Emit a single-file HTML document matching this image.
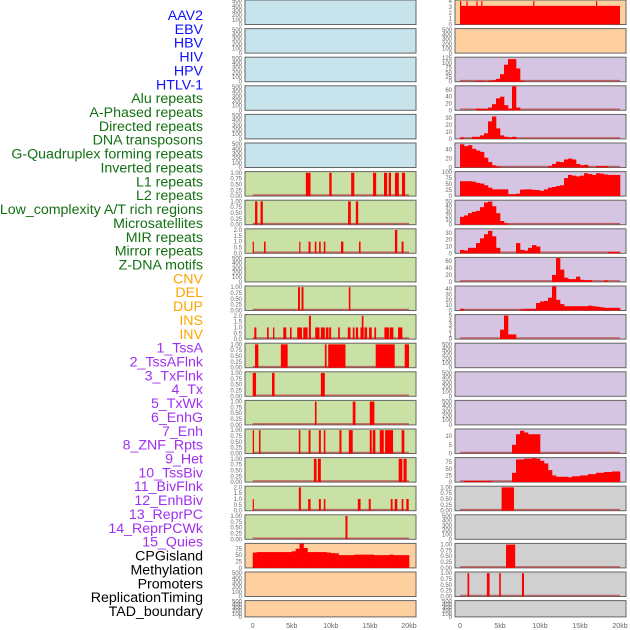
<!DOCTYPE html>
<html><head><meta charset="utf-8"><style>
body{margin:0;background:#fff;width:630px;height:630px;overflow:hidden}
svg{display:block;font-family:"Liberation Sans",sans-serif}
</style></head><body>
<svg id="chart" width="630" height="630" viewBox="0 0 630 630" xmlns="http://www.w3.org/2000/svg"></svg>
<script>
const trackLabels = ["AAV2","EBV","HBV","HIV","HPV","HTLV-1","Alu repeats","A-Phased repeats","Directed repeats","DNA transposons","G-Quadruplex forming repeats","Inverted repeats","L1 repeats","L2 repeats","Low_complexity A/T rich regions","Microsatellites","MIR repeats","Mirror repeats","Z-DNA motifs","CNV","DEL","DUP","INS","INV","1_TssA","2_TssAFlnk","3_TxFlnk","4_Tx","5_TxWk","6_EnhG","7_Enh","8_ZNF_Rpts","9_Het","10_TssBiv","11_BivFlnk","12_EnhBiv","13_ReprPC","14_ReprPCWk","15_Quies","CPGisland","Methylation","Promoters","ReplicationTiming","TAD_boundary"];
const labelGroups = [6,13,5,15,5];
const groupColors = ["#1010ff","#137013","#ffa500","#a030f0","#000000"];
const xTickValues = [0,5,10,15,20];
const xTickLabels = ["0","5kb","10kb","15kb","20kb"];

const leftBg = ["b","b","b","b","b","b","g","g","g","g","g","g","g","g","g","g","g","g","g","o","o","o"];
const rightBg = ["o","o","p","p","p","p","p","p","p","p","p","p","p","p","p","p","p","k","k","k","k","k"];

const leftScale = ["e500","e500","e500","e500","e500","e500","u1","u1","u2","e500","u1","u2","u1","u1","u1","u1","u1","u2","u1","c75","e500","e500"];
const rightScale = ["r4","e500","r125","r60","r30","r40","r100","r50","r30b","r60b","r40b","r5","e500","e500","e500","r10","r75","u1","e500","u1","u1","e500"];

const leftIntervals = {
 6: [[6.8,7.4,1],[9.8,10.1,1],[12.6,13.0,1],[15.4,15.8,1],[16.8,17.2,1],[17.4,17.7,1],[18.2,18.7,1],[19.1,19.5,1]],
 7: [[0.3,0.6,1],[1.0,1.3,1],[12.2,12.55,1],[13.2,13.5,1]],
 8: [[0,0.15,1],[1.45,1.65,1],[5.95,6.1,1],[7.15,7.4,1],[7.95,8.15,1],[8.5,8.7,1],[9.1,9.3,1],[11.3,11.6,1],[13.6,13.8,1],[18.2,18.5,2],[19.05,19.3,1]],
 10: [[5.8,6.05,1],[6.25,6.5,1],[12.3,12.5,1]],
 11: [[0.21,0.47,1],[1.83,2.04,1],[2.6,2.77,1],[3.91,4.3,1],[4.77,4.98,1],[5.7,6.3,1],[6.47,7.02,1],[7.19,7.45,2],[8.0,8.55,1],[8.72,9.23,1],[9.36,9.7,1],[9.79,10.04,1],[10.94,11.15,1],[12.17,12.51,1],[12.81,13.02,1],[13.19,13.49,1],[13.79,14.21,1],[13.96,14.17,2],[14.3,14.64,1],[14.89,15.23,1],[15.57,15.79,1],[16.85,17.45,1],[17.53,18.0,1],[18.6,19.15,1]],
 12: [[0.3,0.72,1],[3.6,4.47,1],[9.23,9.45,1],[9.66,11.87,1],[15.74,18.17,1],[19.45,20.0,1]],
 13: [[0,0.43,1],[2.47,2.8,1],[8.72,9.23,1]],
 14: [[7.96,8.17,1],[12.8,13.15,1],[14.98,15.57,1]],
 15: [[0,0.17,1],[0.8,1.0,1],[5.9,6.1,1],[7.15,7.4,1],[8.47,8.72,1],[9.1,9.3,1],[11.1,11.36,1],[12.3,12.8,1],[14.98,15.23,1],[15.36,15.7,1],[16.26,16.77,1],[16.94,17.96,1],[19.06,19.4,1]],
 16: [[7.83,8.17,1],[8.34,8.72,1],[18.68,19.15,1],[19.3,19.7,1]],
 17: [[0,0.13,1],[5.9,6.17,2],[7.1,7.4,1],[8.47,8.72,1],[9.1,9.3,1],[13.45,13.8,1],[14.85,15.1,1],[17.66,17.9,1],[18.17,18.5,1],[19.06,19.28,1],[19.66,19.96,1]],
 18: [[11.87,12.13,1]]
};
const rightIntervals = {
 0: [[0,20,3.2],[0,0.15,4],[0.8,0.95,4],[2.05,2.2,4],[2.65,2.8,4],[9.15,9.3,4],[17.0,17.15,4]],
 17: [[5.2,6.75,1]],
 19: [[5.75,6.9,1]],
 20: [[0.94,1.15,1],[3.36,3.7,1],[4.9,5.1,1],[7.74,8.0,1]]
};
const cpgProfile = [60,62,62,62,62,62,62,62,62,62,65,75,95,78,62,62,62,62,62,60,58,57,50,50,50,50,52,52,52,52,52,50,50,50,50,52,50,50,50,50];
const hivProfile = [0,0,0,0,4,4,0,5,8,15,40,90,120,120,70,5,0,0,0,0,0,0,0,0,0,0,0,0,0,0,0,0,0,0,0,0,0,0,0,0];
const hpvProfile = [0,0,0,0,5,4,4,8,18,35,40,15,5,70,8,0,0,0,0,0,0,0,0,0,0,0,0,0,0,0,0,0,0,0,0,0,0,0,0,0];
const htlvProfile = [2,0,0,3,3,5,8,25,32,15,5,3,2,3,0,0,0,0,0,0,0,0,0,0,0,0,0,0,0,0,0,0,0,0,0,0,0,0,0,0];
const aphasedProfile = [52,48,50,42,38,35,22,12,5,2,0,0,0,0,0,0,0,0,0,0,0,0,3,8,13,12,18,20,18,8,5,6,0,0,3,3,3,0,0,0];
const directedProfile = [62,62,62,60,55,52,45,35,28,28,28,28,8,8,10,27,28,28,26,25,22,28,35,38,42,45,75,88,85,82,85,95,92,88,95,93,90,88,88,88];
const gquadProfile = [17,20,25,28,30,38,48,50,40,25,8,3,0,0,0,0,0,0,0,0,0,0,0,0,0,0,0,0,0,0,0,0,0,0,0,0,0,0,0,0];
const invertedProfile = [5,4,8,8,15,22,28,33,25,8,0,0,0,0,15,5,4,8,12,10,0,0,0,0,0,0,0,0,0,0,0,0,0,0,0,0,0,2,2,2];
const lowcompProfile = [0,0,0,0,0,0,0,0,0,0,0,0,0,0,0,0,0,0,0,0,0,0,0,20,68,35,12,8,8,15,6,5,5,0,0,0,4,0,0,0];
const microProfile = [3,0,0,0,0,0,0,0,0,0,0,0,0,0,0,2,3,3,3,14,17,18,24,45,20,12,8,8,8,8,8,8,9,8,7,6,5,5,5,5];
const mirProfile = [0,0,0,0,0,0,0,0,0,0,2,5,1,1,0,0,0,0,0,0,0,0,0,0,0,0,0,0,0,0,0,0,0,0,0,0,0,0,0,0];
const hetProfile = [0,0,0,0,0,0,0,0,0,0,0,0,0,5,11,13,12,11,11,11,0,0,0,0,0,0,0,0,0,0,0,0,0,0,0,0,0,0,0,0];
const tssbivProfile = [0,4,4,4,4,4,4,4,0,0,0,0,0,35,85,85,88,88,90,88,80,70,45,25,20,20,20,18,22,22,25,25,30,30,35,35,38,38,40,40];
const leftProfiles = {19: cpgProfile};
const rightProfiles = {2: hivProfile, 3: hpvProfile, 4: htlvProfile, 5: aphasedProfile, 6: directedProfile, 7: gquadProfile, 8: invertedProfile, 9: lowcompProfile, 10: microProfile, 11: mirProfile, 15: hetProfile, 16: tssbivProfile};

const scaleTicks = {
 e500: [0,100,200,300,400,500], u1: [0,0.25,0.5,0.75,1], u2: [0,0.5,1,1.5,2], c75: [0,25,50,75],
 r4: [0,1,2,3,4], r125: [0,25,50,75,100,125], r60: [0,20,40,60], r30: [0,10,20,30], r40: [0,20,40],
 r100: [0,25,50,75,100], r50: [0,10,20,30,40,50], r30b: [0,10,20,30], r60b: [0,20,40,60], r40b: [0,10,20,30,40],
 r5: [0,1,2,3,4,5], r10: [0,5,10], r75: [0,25,50,75]
};
const scaleTop = {e500:525,u1:1.05,u2:2.1,c75:96,r4:4.2,r125:130,r60:72,r30:35,r40:55,r100:102,r50:53,r30b:36,r60b:70,r40b:46,r5:5.2,r10:14,r75:92};
const scaleDigits = {u1:2,u2:1};
const bgColors = {b:"#c7e3eb",o:"#ffd09f",g:"#c9e1a5",p:"#d5c5e2",k:"#d0d0d0"};

const NS="http://www.w3.org/2000/svg";
const svg=document.getElementById("chart");
function mk(tag,attrs,parent){const e=document.createElementNS(NS,tag);for(const k in attrs)e.setAttribute(k,attrs[k]);(parent||svg).appendChild(e);return e;}

let li=0;
labelGroups.forEach((n,g)=>{for(let j=0;j<n;j++){
  const t=mk("text",{x:203,y:15+li*13.86+5,"text-anchor":"end","font-size":"14.2",fill:groupColors[g]});
  t.textContent=trackLabels[li];
  
  
  li++;}});

const cols=[{x0:245,x1:416,z:252.7,w:156.3},{x0:455,x1:626,z:460,w:160}];
function xs(c,kb){return cols[c].z+kb/20*cols[c].w;}

function drawPanel(c,i,bg,scale,intervals,profile){
  const top=i*28.6, h=(i===21?16.3:24.5), bot=top+h;
  const g=mk("g",{});
  
  
  mk("rect",{x:cols[c].x0,y:top,width:cols[c].x1-cols[c].x0,height:h,fill:bgColors[bg],stroke:"#666","stroke-width":1},g);
  const ymax=scaleTop[scale];
  const ys=v=>bot-v/ymax*h;
  const hasData=!!(intervals||profile);
  if(hasData){
    const bl=mk("line",{x1:xs(c,0),x2:xs(c,20),y1:bot-1,y2:bot-1,stroke:"#b84848","stroke-width":1.6,opacity:0.8},g);
    
    
  }
  if(profile){profile.forEach((v,k)=>{if(v<=0)return;
    const r=mk("rect",{x:xs(c,k*0.5),y:ys(v),width:xs(c,(k+1)*0.5)-xs(c,k*0.5)+0.3,height:bot-ys(v),fill:"#ff0000"},g);
    
    });}
  if(intervals){intervals.forEach(d=>{
    const r=mk("rect",{x:xs(c,d[0]),y:ys(d[2]),width:Math.max(1.2,xs(c,d[1])-xs(c,d[0])),height:bot-ys(d[2]),fill:"#ff0000"},g);
    
    });}
  const tk=scaleTicks[scale], dg=scaleDigits[scale]||0;
  tk.forEach(v=>{
    const t=mk("text",{x:cols[c].x0-3,y:ys(v)+2,"text-anchor":"end","font-size":"6",fill:"#666"},g);
    t.textContent=v.toFixed(dg);
    
    
  });
}
for(let i=0;i<22;i++){
  drawPanel(0,i,leftBg[i],leftScale[i],leftIntervals[i],leftProfiles[i]);
  drawPanel(1,i,rightBg[i],rightScale[i],rightIntervals[i],rightProfiles[i]);
}
for(let c=0;c<2;c++){xTickValues.forEach((v,k)=>{
  const t=mk("text",{x:xs(c,v),y:628,"text-anchor":"middle","font-size":"7",fill:"#666"});
  t.textContent=xTickLabels[k];
  
  
});}
</script>
</body></html>
